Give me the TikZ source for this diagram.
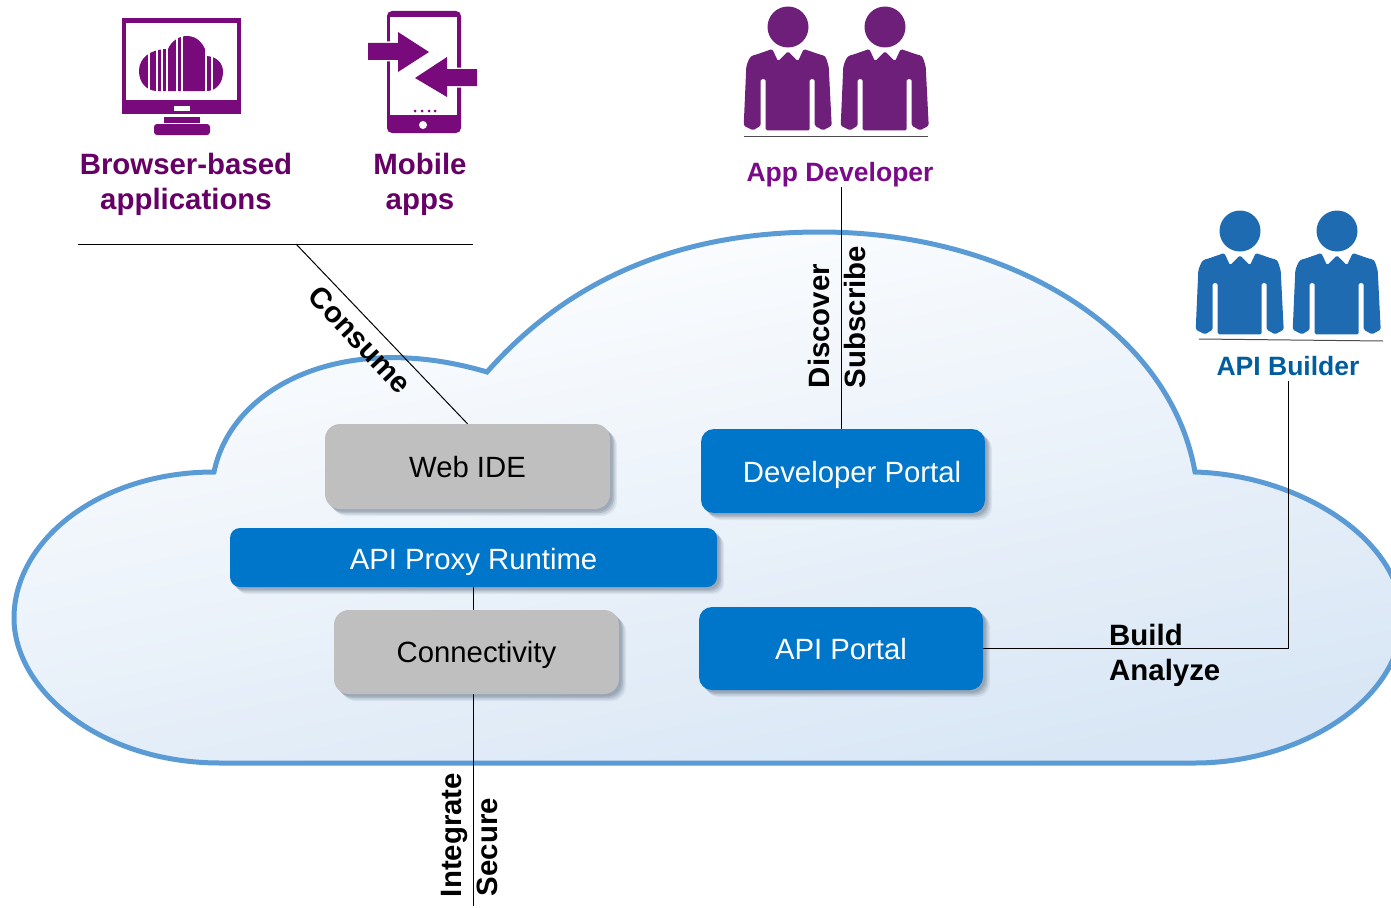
\documentclass[tikz,border=0pt]{standalone}
\usepackage{fontspec}
\setmainfont{Liberation Sans}
\usetikzlibrary{shadows}
\definecolor{iconpurple}{HTML}{780A7C}
\definecolor{devpurple}{HTML}{6D1F7A}
\definecolor{textpurple}{HTML}{660066}
\definecolor{labelpurple}{HTML}{7A0A8A}
\definecolor{builderblue}{HTML}{1F6BB2}
\definecolor{labelblue}{HTML}{005E9E}
\definecolor{boxblue}{HTML}{0076CB}
\definecolor{boxgray}{HTML}{BFBFBF}
\definecolor{cloudline}{HTML}{5B9BD5}
\definecolor{cloudlow}{HTML}{D8E6F5}
\definecolor{shadowtone}{HTML}{6F7F92}
\tikzset{
  softshadow/.style={
    general shadow={fill=shadowtone,opacity=.12,shadow xshift=7pt,shadow yshift=-7pt},
    general shadow={fill=shadowtone,opacity=.18,shadow xshift=5.5pt,shadow yshift=-5.5pt},
    general shadow={fill=shadowtone,opacity=.25,shadow xshift=4pt,shadow yshift=-4pt},
    general shadow={fill=shadowtone,opacity=.3,shadow xshift=2.5pt,shadow yshift=-2.5pt}},
  bluebox/.style={softshadow,fill=boxblue,text=white,rounded corners=13pt,inner sep=0pt,text depth=0pt,font=\fontsize{29.3}{36}\selectfont},
  graybox/.style={softshadow,fill=boxgray,text=black,rounded corners=15pt,inner sep=0pt,text depth=0pt,font=\fontsize{29.3}{36}\selectfont},
  boldlabel/.style={inner sep=0pt,font=\bfseries\fontsize{29.4}{35}\selectfont,align=center},
  rolelabel/.style={inner sep=0pt,font=\bfseries\fontsize{26.5}{32}\selectfont},
  conn/.style={line width=1pt,black},
  arrowicon/.style={fill=iconpurple,preaction={draw=white,line width=3pt}},
  person/.pic={
    \fill[pic actions] (0,0) circle (20.5);
    \fill[pic actions,rounded corners=1.5pt] (-15.7,22) -- (-33,28) to[out=190,in=70] (-41.7,39.3) -- (-44.3,98.7) -- (-35,103.3) -- (-27.3,98.7)
      -- (-27.3,52) -- (-22.3,52) -- (-22.3,103.3) -- (21.7,103.3) -- (21.7,52) -- (26.7,52) -- (26.7,98.7)
      -- (35,103.3) -- (43.7,98.7) -- (40.7,39.3) to[out=110,in=-10] (33.3,28) -- (15.7,22) -- (10,34.3) -- (0,24.3) -- (-10,34.3) -- cycle;
  }
}
\begin{document}
\begin{tikzpicture}[x=1pt,y=-1pt]
\useasboundingbox (0,0) rectangle (1391,907);
\draw[line width=5pt,cloudline,top color=white,bottom color=cloudlow,shading angle=12] (214,472) .. controls (232,385) and (345,330) .. (487,372)
  .. controls (590,255) and (720,232) .. (820,232) .. controls (1010,232) and (1170,330) .. (1195,472)
  .. controls (1300,475) and (1402,540) .. (1402,618) .. controls (1402,700) and (1300,763) .. (1195,763)
  -- (220,763) .. controls (100,763) and (14,690) .. (14,618) .. controls (14,540) and (100,472) .. (214,472) -- cycle;

\fill[iconpurple] (122,18) rectangle (241,114);
\fill[white] (125.5,23) rectangle (237,100);
\fill[white] (174,106) rectangle (190,111);
\fill[iconpurple] (164,117) rectangle (200,123);
\fill[iconpurple,rounded corners=3pt] (154,124) rectangle (210,135);
\fill[iconpurple] (157,91) .. controls (146,91) and (139,82) .. (139,71) .. controls (139,58) and (150,49) .. (168,49)
  .. controls (172,40) and (180,36) .. (187,36) .. controls (198,36) and (205,45) .. (207,56)
  .. controls (217,57) and (223,63) .. (223,72) .. controls (223,83) and (216,91) .. (207,91) -- cycle;
\foreach \stripe in {149,157,162,167,177,182,206,212}
  \draw[white,line width=1.4pt] (\stripe,34) -- (\stripe,93);

\fill[iconpurple,rounded corners=5pt] (387,11) rectangle (461,133);
\fill[white] (390,17) rectangle (457,115);
\fill[white] (423,125) circle (4);
\foreach \dotx in {415,422,429,435}
  \fill[iconpurple] (\dotx,111) circle (1.5);
\path[arrowicon] (368,43) -- (398,43) -- (398,32) -- (429,52) -- (398,72) -- (398,60) -- (368,60) -- cycle;
\path[arrowicon] (477,69) -- (447,69) -- (447,57) -- (415,78) -- (447,97) -- (447,86) -- (477,86) -- cycle;

\pic[fill=devpurple] at (788,27) {person};
\pic[fill=devpurple] at (885,27) {person};
\pic[fill=builderblue] at (1240,231) {person};
\pic[fill=builderblue] at (1337,231) {person};
\draw[line width=1pt,black!70] (744,136) -- (928,136);
\draw[line width=1pt,black!70] (1199,339) -- (1383,341);

\node[boldlabel,text=textpurple] (browser) at (186,184) {Browser-based\\applications};
\node[boldlabel,text=textpurple] (mobile) at (420,184) {Mobile\\apps};
\node[rolelabel,text=labelpurple] (appdev) at (840,175) {App Developer};
\node[rolelabel,text=labelblue] (builder) at (1288,366) {API Builder};

\node[graybox,text height=22.4pt,minimum width=285pt,minimum height=85pt] (webide) at (467.5,466.5) {Web IDE};
\node[bluebox,text height=23.4pt,minimum width=284pt,minimum height=84pt] (devportal) at (843,471) {\hspace*{18pt}Developer Portal};
\node[bluebox,text height=23pt,rounded corners=10pt,minimum width=487pt,minimum height=59pt] (runtime) at (473.5,557.5) {API Proxy Runtime};
\node[graybox,text height=21.4pt,minimum width=285pt,minimum height=84pt] (connect) at (476.5,652) {Connectivity};
\node[bluebox,text height=21.4pt,minimum width=284pt,minimum height=83pt] (apiportal) at (841,648.5) {API Portal};

\coordinate (baseleft) at (78,244);
\coordinate (baseright) at (473,244);
\coordinate (consumept) at (296,244);
\coordinate (secureend) at (473.5,906);
\coordinate (appfoot) at (841,187);
\coordinate (builderfoot) at (1288,381);
\draw[conn] (baseleft) -- (baseright);
\draw[conn] (consumept) -- (webide.north);
\draw[conn] (appfoot) -- (appfoot |- devportal.north);
\draw[conn] (runtime.south) -- (runtime.south |- connect.north);
\draw[conn] (runtime.south |- connect.south) -- (secureend);
\draw[conn] (apiportal.east) -| (builderfoot);

\node[boldlabel,rotate=-47] (consume) at (360,340) {Consume};
\node[boldlabel,rotate=90] (discover) at (819,326) {Discover};
\node[boldlabel,rotate=90] (subscribe) at (855,317) {Subscribe};
\node[boldlabel,rotate=90] (integrate) at (454,835) {Integrate};
\node[boldlabel,rotate=90] (secure) at (487,847) {Secure};
\node[boldlabel,align=left,anchor=west] (build) at (1109,655.5) {Build\\Analyze};
\end{tikzpicture}
\end{document}
